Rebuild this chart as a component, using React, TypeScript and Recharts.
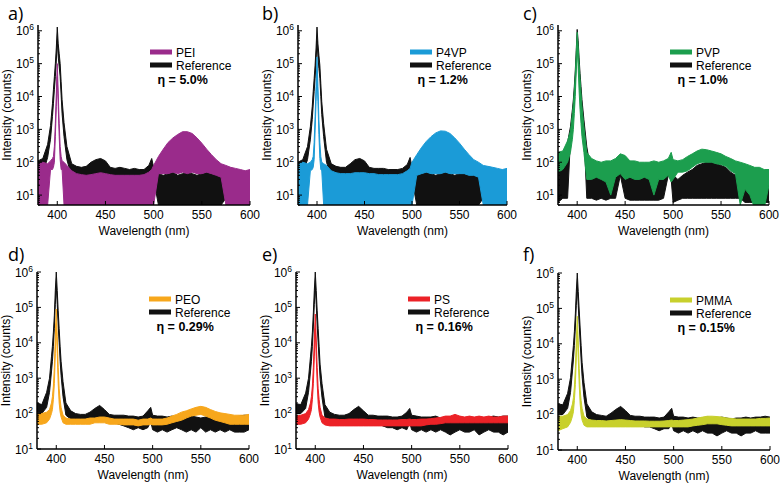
import React from "react";
import { ComposedChart, Area, XAxis, YAxis } from "recharts";

// shared wavelength grid (nm), finer around the 400 nm laser line
const WAVELENGTHS = [
  380, 385, 390, 393,
  395, 396, 397, 398, 399, 400, 401, 402, 403, 404, 405,
  407, 410, 415,
  420, 425, 430, 435, 440, 445, 450, 455, 460, 465, 470, 475, 480, 485, 490, 495,
  498, 500,
  505, 510, 515, 520, 525, 530, 535, 540, 545, 550, 555, 560, 565, 570, 575, 580, 585, 590, 595, 600,
];

// each spectrum is a noise band: low / high edge of the trace (counts)
const REF_A_HI = [
  110, 130, 350, 1300,
  6000, 16000, 40000, 100000, 300000, 1300000, 400000, 200000, 100000, 28000, 8000,
  1600, 300, 90,
  75, 70, 75, 100, 120, 130, 110, 70, 65, 70, 65, 60, 65, 60, 60, 80,
  130, 70,
  45, 40, 45, 50, 40, 45, 50, 45, 40, 45, 50, 45, 40, 35, 30, 30, 30, 30, 30, 30,
];
const REF_A_LO = [
  40, 45, 140, 500,
  2500, 6000, 16000, 40000, 120000, 500000, 160000, 80000, 40000, 11000, 3000,
  600, 120, 35,
  30, 30, 30, 30, 35, 40, 35, 30, 30, 30, 30, 30, 30, 30, 30, 30,
  35, 30,
  5, 5, 5, 5, 5, 5, 5, 5, 5, 5, 5, 5, 5, 5, 8, 8, 8, 8, 8, 8,
];
const PEI_HI = [
  90, 100, 90, 110,
  130, 150, 300, 1500, 12000, 100000, 12000, 1500, 300, 150, 110,
  100, 80, 55,
  45, 42, 40, 42, 45, 48, 45, 42, 40, 40, 40, 40, 40, 40, 42, 50,
  60, 80,
  150, 250, 400, 550, 700, 850, 850, 750, 550, 380, 250, 170, 120, 90, 80, 70, 65, 60, 55, 60,
];
const PEI_LO = [
  5, 5, 5, 60,
  60, 70, 100, 600, 5000, 40000, 5000, 600, 120, 60, 60,
  5, 5, 5,
  5, 5, 5, 5, 5, 5, 5, 5, 5, 5, 5, 5, 5, 5, 5, 5,
  5, 5,
  45, 45, 45, 50, 45, 50, 45, 50, 45, 45, 50, 45, 40, 35, 5, 5, 5, 5, 5, 5,
];

const REF_B_HI = [
  100, 120, 300, 1200,
  5000, 14000, 35000, 90000, 300000, 1300000, 400000, 180000, 90000, 25000, 7000,
  1500, 250, 90,
  75, 70, 70, 90, 120, 130, 110, 70, 65, 65, 65, 60, 60, 60, 65, 85,
  140, 70,
  40, 45, 50, 45, 40, 45, 50, 45, 40, 45, 45, 40, 40, 35, 30, 30, 30, 30, 30, 30,
];
const REF_B_LO = [
  40, 45, 120, 480,
  2000, 5500, 14000, 36000, 120000, 500000, 160000, 72000, 36000, 10000, 2800,
  600, 100, 35,
  30, 30, 30, 30, 35, 40, 35, 30, 30, 30, 30, 30, 30, 30, 30, 30,
  35, 30,
  5, 5, 5, 5, 5, 5, 5, 5, 5, 5, 5, 5, 5, 5, 8, 8, 8, 8, 8, 8,
];
const P4VP_HI = [
  90, 100, 90, 100,
  120, 150, 400, 2500, 20000, 160000, 20000, 2000, 400, 150, 100,
  90, 80, 55,
  48, 45, 45, 45, 48, 48, 48, 45, 45, 42, 42, 42, 42, 42, 45, 55,
  65, 100,
  170, 280, 430, 600, 780, 900, 880, 750, 550, 380, 250, 170, 120, 100, 80, 75, 70, 65, 60, 65,
];
const P4VP_LO = [
  5, 5, 5, 55,
  60, 70, 120, 900, 7000, 60000, 7000, 700, 130, 60, 55,
  5, 5, 5,
  5, 5, 5, 5, 5, 5, 5, 5, 5, 5, 5, 5, 5, 5, 5, 5,
  5, 5,
  40, 45, 50, 45, 45, 45, 50, 45, 45, 45, 45, 40, 40, 35, 5, 5, 5, 5, 5, 5,
];

const REF_C_HI = [
  60, 150, 400, 1200,
  4000, 8000, 20000, 60000, 250000, 1100000, 500000, 150000, 50000, 20000, 8000,
  2000, 300, 40,
  35, 35, 35, 40, 60, 150, 100, 40, 35, 35, 35, 35, 35, 35, 35, 40,
  150, 40,
  30, 40, 50, 60, 80, 90, 100, 100, 90, 80, 70, 50, 40, 30, 30, 25, 25, 25, 25, 25,
];
const REF_C_LO = [
  6, 8, 8, 480,
  1600, 3200, 8000, 24000, 100000, 450000, 200000, 60000, 20000, 8000, 3200,
  800, 8, 8,
  7, 8, 7, 8, 8, 40, 8, 7, 7, 7, 7, 7, 7, 7, 8, 40,
  30, 6,
  7, 8, 8, 8, 8, 8, 8, 8, 8, 8, 8, 8, 8, 8, 6, 6, 6, 6, 6, 6,
];
const PVP_HI = [
  200, 220, 450, 900,
  3000, 6000, 15000, 45000, 200000, 900000, 350000, 100000, 35000, 13000, 5000,
  1200, 200, 130,
  110, 100, 110, 110, 130, 180, 160, 110, 110, 100, 100, 100, 110, 100, 110, 130,
  200, 120,
  110, 120, 150, 180, 220, 250, 240, 220, 200, 180, 150, 130, 110, 100, 90, 80, 70, 70, 60, 60,
];
const PVP_LO = [
  50, 60, 100, 200,
  500, 1000, 3000, 10000, 60000, 300000, 80000, 15000, 4000, 1500, 600,
  200, 30, 30,
  35, 30, 25, 10, 35, 45, 30, 35, 30, 30, 35, 30, 10, 30, 30, 40,
  25, 30,
  50, 50, 55, 70, 90, 100, 100, 100, 90, 85, 75, 55, 45, 5, 15, 10, 4, 4, 4, 20,
];

const REF_D_HI = [
  200, 180, 400, 1000,
  4000, 8000, 20000, 60000, 300000, 1000000, 300000, 80000, 25000, 8000, 3000,
  800, 200, 120,
  100, 95, 95, 110, 140, 170, 130, 95, 90, 90, 90, 85, 85, 80, 85, 120,
  150, 90,
  85, 85, 80, 85, 80, 75, 80, 85, 80, 75, 80, 85, 80, 75, 85, 90, 80, 85, 90, 90,
];
const REF_D_LO = [
  110, 100, 150, 400,
  1500, 3000, 8000, 25000, 120000, 400000, 120000, 30000, 10000, 3000, 1200,
  300, 90, 70,
  60, 60, 55, 60, 60, 70, 60, 55, 55, 50, 45, 40, 35, 40, 35, 40,
  60, 35,
  30, 35, 30, 35, 40, 35, 30, 35, 30, 40, 30, 35, 30, 35, 30, 35, 30, 30, 30, 35,
];
const PEO_HI = [
  100, 100, 110, 130,
  200, 300, 600, 2000, 15000, 90000, 15000, 2000, 500, 250, 150,
  90, 75, 70,
  70, 70, 70, 75, 75, 80, 80, 75, 70, 70, 70, 70, 70, 65, 70, 70,
  75, 70,
  70, 70, 75, 85, 95, 110, 120, 135, 150, 160, 150, 130, 115, 105, 100, 95, 90, 90, 90, 95,
];
const PEO_LO = [
  50, 50, 55, 70,
  100, 130, 250, 700, 5000, 35000, 5000, 700, 200, 110, 80,
  55, 50, 50,
  50, 50, 50, 50, 55, 55, 55, 50, 50, 50, 48, 48, 48, 45, 48, 48,
  50, 48,
  48, 48, 50, 55, 60, 65, 75, 85, 90, 95, 85, 75, 65, 60, 55, 50, 50, 50, 50, 50,
];

const REF_E_HI = [
  190, 180, 380, 1000,
  4000, 8000, 20000, 70000, 300000, 1000000, 300000, 80000, 25000, 8000, 2500,
  700, 180, 110,
  95, 90, 90, 100, 130, 160, 120, 90, 90, 85, 85, 85, 80, 80, 85, 110,
  140, 90,
  85, 80, 80, 80, 85, 75, 80, 80, 75, 80, 75, 80, 75, 80, 75, 80, 85, 80, 85, 85,
];
const REF_E_LO = [
  100, 100, 140, 400,
  1500, 3000, 8000, 28000, 120000, 400000, 120000, 30000, 10000, 3000, 1000,
  280, 80, 65,
  60, 55, 55, 60, 60, 65, 55, 55, 50, 50, 45, 40, 40, 35, 40, 35,
  55, 35,
  30, 35, 30, 35, 30, 35, 30, 25, 30, 35, 30, 30, 35, 25, 30, 35, 30, 30, 25, 30,
];
const PS_HI = [
  85, 90, 100, 130,
  200, 300, 600, 2000, 12000, 65000, 12000, 2000, 500, 250, 150,
  90, 75, 70,
  70, 68, 68, 70, 70, 70, 70, 68, 68, 66, 66, 66, 66, 66, 68, 68,
  70, 68,
  68, 70, 70, 72, 75, 78, 85, 85, 95, 85, 80, 85, 80, 85, 80, 85, 80, 80, 85, 85,
];
const PS_LO = [
  50, 50, 55, 70,
  100, 130, 250, 700, 4000, 25000, 4000, 700, 200, 110, 80,
  55, 48, 45,
  45, 45, 45, 45, 45, 45, 45, 45, 45, 45, 45, 45, 45, 45, 45, 45,
  45, 45,
  45, 45, 48, 50, 50, 52, 55, 55, 55, 55, 55, 55, 55, 55, 55, 55, 55, 55, 55, 55,
];

const REF_F_HI = [
  200, 190, 400, 1100,
  4500, 9000, 22000, 70000, 300000, 1000000, 300000, 90000, 28000, 9000, 3000,
  800, 200, 120,
  100, 95, 90, 110, 140, 170, 130, 95, 90, 90, 85, 85, 85, 80, 85, 120,
  150, 90,
  85, 85, 80, 85, 80, 80, 85, 80, 80, 85, 80, 75, 80, 80, 85, 80, 85, 85, 90, 85,
];
const REF_F_LO = [
  110, 100, 150, 420,
  1700, 3500, 9000, 28000, 120000, 400000, 120000, 35000, 11000, 3500, 1200,
  300, 85, 65,
  60, 55, 55, 60, 60, 65, 55, 55, 50, 50, 45, 45, 40, 35, 40, 40,
  55, 35,
  30, 35, 30, 35, 30, 35, 30, 30, 25, 30, 35, 30, 30, 25, 30, 30, 35, 30, 30, 30,
];
const PMMA_HI = [
  90, 90, 100, 130,
  200, 300, 600, 2000, 12000, 60000, 12000, 2000, 500, 250, 150,
  90, 75, 70,
  68, 68, 66, 68, 70, 72, 70, 68, 66, 66, 66, 65, 65, 65, 66, 68,
  70, 68,
  68, 70, 72, 75, 80, 85, 90, 90, 88, 85, 80, 78, 75, 75, 75, 75, 75, 78, 78, 80,
];
const PMMA_LO = [
  35, 40, 45, 60,
  90, 120, 250, 700, 4000, 22000, 4000, 700, 200, 100, 70,
  50, 45, 45,
  45, 45, 45, 45, 45, 45, 45, 45, 45, 45, 45, 45, 45, 45, 45, 45,
  45, 45,
  45, 45, 45, 48, 50, 52, 55, 55, 55, 52, 50, 48, 48, 48, 48, 48, 48, 48, 48, 48,
];

const X_TICKS = [400, 450, 500, 550, 600];
const Y_MAJOR = [10, 100, 1000, 10000, 100000, 1000000];
const Y_MINOR_STEPS = [2, 3, 4, 5, 6, 7, 8, 9];

const TOP_DOMAIN: [number, number] = [5, 1.5e6];
const BOTTOM_DOMAIN: [number, number] = [10, 1e6];

const FONT = '"Liberation Sans", Arial, sans-serif';
const REF_COLOR = "#111111";

type Spec = {
  letter: string;
  name: string;
  eta: string;
  color: string;
  lo: number[];
  hi: number[];
  refLo: number[];
  refHi: number[];
  domain: [number, number];
  box: { x: number; y: number; w: number; h: number };
};

const PANELS: Spec[] = [
  { letter: "a)", name: "PEI", eta: "η = 5.0%", color: "#9a2b8b", lo: PEI_LO, hi: PEI_HI, refLo: REF_A_LO, refHi: REF_A_HI, domain: TOP_DOMAIN, box: { x: 38, y: 25, w: 212, h: 180 } },
  { letter: "b)", name: "P4VP", eta: "η = 1.2%", color: "#1b9bd7", lo: P4VP_LO, hi: P4VP_HI, refLo: REF_B_LO, refHi: REF_B_HI, domain: TOP_DOMAIN, box: { x: 298, y: 25, w: 209, h: 180 } },
  { letter: "c)", name: "PVP", eta: "η = 1.0%", color: "#1c9e4e", lo: PVP_LO, hi: PVP_HI, refLo: REF_C_LO, refHi: REF_C_HI, domain: TOP_DOMAIN, box: { x: 558, y: 25, w: 211, h: 180 } },
  { letter: "d)", name: "PEO", eta: "η = 0.29%", color: "#f7a71c", lo: PEO_LO, hi: PEO_HI, refLo: REF_D_LO, refHi: REF_D_HI, domain: BOTTOM_DOMAIN, box: { x: 37, y: 272, w: 212, h: 177 } },
  { letter: "e)", name: "PS", eta: "η = 0.16%", color: "#ec2227", lo: PS_LO, hi: PS_HI, refLo: REF_E_LO, refHi: REF_E_HI, domain: BOTTOM_DOMAIN, box: { x: 296, y: 272, w: 212, h: 177 } },
  { letter: "f)", name: "PMMA", eta: "η = 0.15%", color: "#c8d02c", lo: PMMA_LO, hi: PMMA_HI, refLo: REF_F_LO, refHi: REF_F_HI, domain: BOTTOM_DOMAIN, box: { x: 558, y: 273, w: 212, h: 177 } },
];

function logTicks(domain: [number, number]) {
  const all = [...Y_MAJOR, ...[1, ...Y_MAJOR.slice(0, -1)].flatMap((d) => Y_MINOR_STEPS.map((m) => m * d))];
  return Array.from(new Set(all))
    .filter((v) => v >= domain[0] && v <= domain[1])
    .sort((a, b) => a - b);
}

const AXIS_LINE = { stroke: "#000", strokeWidth: 1.5 };

const ML = 38;
const MR = 14;
const MT = 25;
const XH = 36;
const MB = 2;

function LeftTick(props: any) {
  const { x, y, payload } = props;
  const v = payload.value;
  const major = Y_MAJOR.includes(v);
  return (
    <g>
      <line x1={x} x2={x + (major ? 4 : 2)} y1={y} y2={y} stroke="#000" strokeWidth={1} />
      {major && (
        <text x={x - 4} y={y + 4.5} textAnchor="end" fontSize={12} fontFamily={FONT} fill="#000">
          10
          <tspan dy={-5} fontSize={8.5}>
            {Math.round(Math.log10(v))}
          </tspan>
        </text>
      )}
    </g>
  );
}

function RightTick(props: any) {
  const { x, y, payload } = props;
  const major = Y_MAJOR.includes(payload.value);
  return <line x1={x} x2={x - (major ? 4 : 2)} y1={y} y2={y} stroke="#000" strokeWidth={1} />;
}

function BottomTick(props: any) {
  const { x, y, payload } = props;
  return (
    <g>
      <line x1={x} x2={x} y1={y} y2={y - 4} stroke="#000" strokeWidth={1} />
      <text x={x} y={y + 14} textAnchor="middle" fontSize={12} fontFamily={FONT} fill="#000">
        {payload.value}
      </text>
    </g>
  );
}

function TopTick(props: any) {
  const { x, y } = props;
  return <line x1={x} x2={x} y1={y} y2={y + 4} stroke="#000" strokeWidth={1} />;
}

function Panel({ spec }: { spec: Spec }) {
  const { box } = spec;
  const data = WAVELENGTHS.map((wl, i) => ({
    wl,
    reference: [spec.refLo[i], spec.refHi[i]],
    sample: [spec.lo[i], spec.hi[i]],
  }));
  const yTicks = logTicks(spec.domain);

  return (
    <div style={{ position: "absolute", left: box.x - ML, top: box.y - MT }}>
      <ComposedChart
        width={box.w + ML + MR}
        height={box.h + MT + XH + MB}
        data={data}
        margin={{ top: MT, right: MR, bottom: MB, left: ML - 30 }}
      >
        <XAxis
          dataKey="wl"
          type="number"
          domain={[380, 600]}
          allowDataOverflow
          ticks={X_TICKS}
          interval={0}
          height={XH}
          axisLine={AXIS_LINE}
          tickLine={false}
          tickSize={0}
          tickMargin={0}
          tick={BottomTick}
          label={(p: any) => {
            const vb = p.viewBox || {};
            return (
              <text x={vb.x + vb.width / 2} y={vb.y + 30} textAnchor="middle" fontSize={12} fontFamily={FONT} fill="#000">
                Wavelength (nm)
              </text>
            );
          }}
        />
        <XAxis
          xAxisId="top"
          orientation="top"
          dataKey="wl"
          type="number"
          domain={[380, 600]}
          allowDataOverflow
          ticks={X_TICKS}
          interval={0}
          height={0}
          axisLine={AXIS_LINE}
          tickLine={false}
          tickSize={0}
          tickMargin={0}
          tick={TopTick}
        />
        <YAxis
          type="number"
          scale="log"
          domain={spec.domain}
          allowDataOverflow
          ticks={yTicks}
          interval={0}
          width={30}
          axisLine={AXIS_LINE}
          tickLine={false}
          tickSize={0}
          tickMargin={0}
          tick={LeftTick}
          label={(p: any) => {
            const vb = p.viewBox || {};
            const cx = vb.x + 3;
            const cy = vb.y + vb.height / 2;
            return (
              <text x={cx} y={cy} transform={`rotate(-90, ${cx}, ${cy})`} textAnchor="middle" fontSize={12} fontFamily={FONT} fill="#000">
                Intensity (counts)
              </text>
            );
          }}
        />
        <YAxis
          yAxisId="right"
          orientation="right"
          type="number"
          scale="log"
          domain={spec.domain}
          allowDataOverflow
          ticks={yTicks}
          interval={0}
          width={0}
          axisLine={AXIS_LINE}
          tickLine={false}
          tickSize={0}
          tickMargin={0}
          tick={RightTick}
        />
        <Area
          type="linear"
          dataKey="reference"
          name="Reference"
          stroke={REF_COLOR}
          strokeWidth={1}
          fill={REF_COLOR}
          fillOpacity={1}
          dot={false}
          activeDot={false}
          isAnimationActive={false}
        />
        <Area
          type="linear"
          dataKey="sample"
          name={spec.name}
          stroke={spec.color}
          strokeWidth={1}
          fill={spec.color}
          fillOpacity={1}
          dot={false}
          activeDot={false}
          isAnimationActive={false}
        />
      </ComposedChart>
    </div>
  );
}

function Overlay() {
  return (
    <svg width={780} height={487} style={{ position: "absolute", left: 0, top: 0, pointerEvents: "none" }}>
      {PANELS.map((p, i) => {
        const { x, y } = p.box;
        const col = i % 3;
        const letterX = [8, 262, 523][col];
        const letterY = i < 3 ? 20 : 261;
        return (
          <g key={p.letter} fontFamily={FONT} fill="#000">
            <text x={letterX} y={letterY} fontSize={18} fontFamily='"Open Sans", sans-serif'>
              {p.letter}
            </text>
            <rect x={x + 112} y={y + 24.5} width={22} height={5} fill={p.color} />
            <text x={x + 138} y={y + 31.5} fontSize={12}>
              {p.name}
            </text>
            <rect x={x + 112} y={y + 37.5} width={22} height={5} fill={REF_COLOR} />
            <text x={x + 138} y={y + 44.5} fontSize={12}>
              Reference
            </text>
            <text x={x + 119.5} y={y + 59} fontSize={12.5} fontWeight="bold">
              {p.eta}
            </text>
          </g>
        );
      })}
    </svg>
  );
}

export default function App() {
  return (
    <div style={{ position: "absolute", left: 0, top: 0, width: 780, height: 487, background: "#fff", overflow: "hidden" }}>
      {PANELS.map((p) => (
        <Panel key={p.letter} spec={p} />
      ))}
      <Overlay />
    </div>
  );
}
